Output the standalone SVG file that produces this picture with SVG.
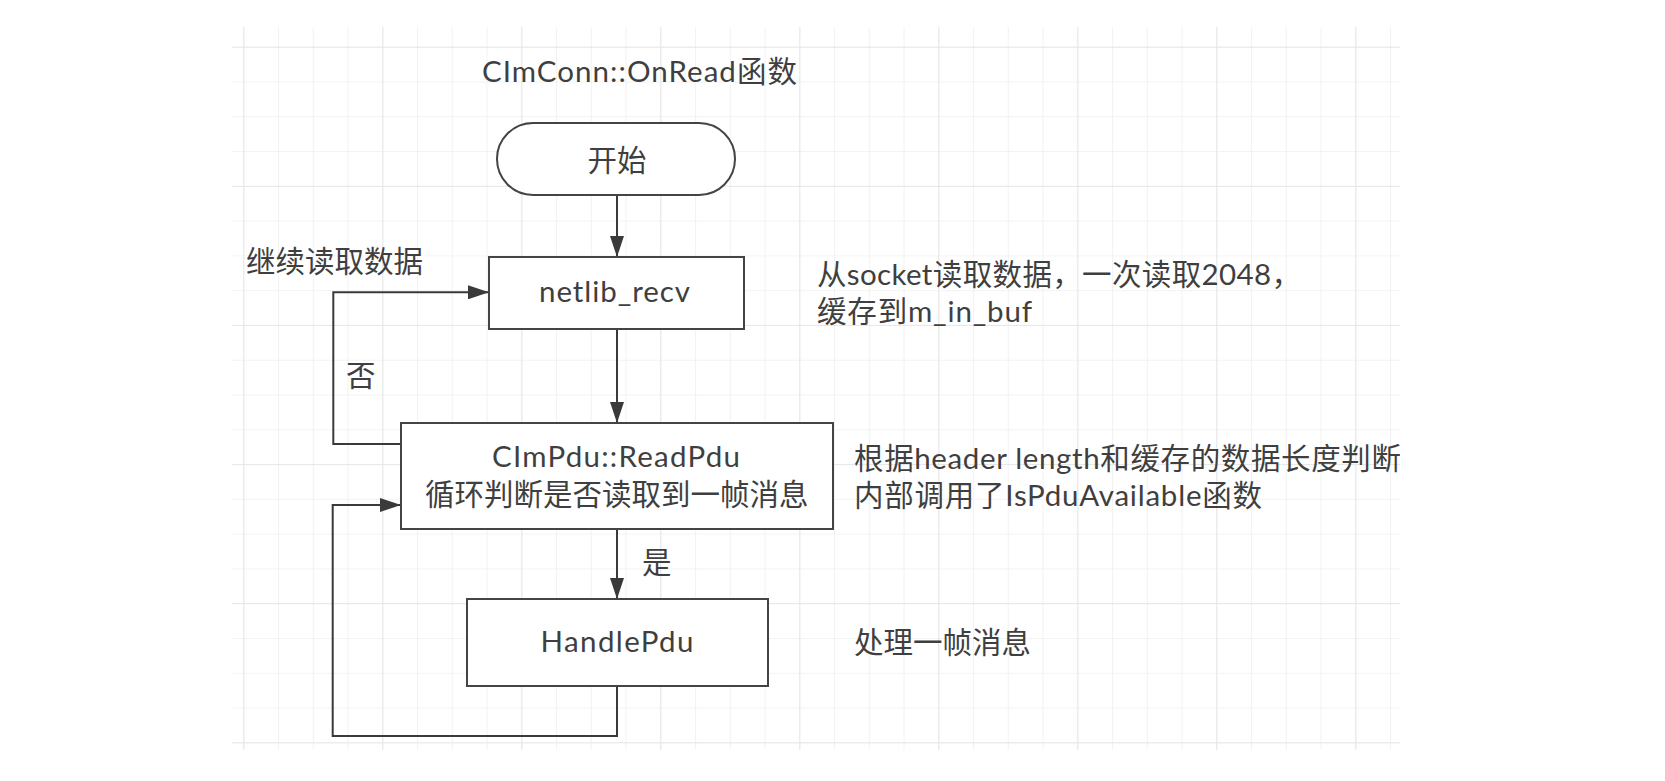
<svg xmlns="http://www.w3.org/2000/svg" width="1665" height="781" viewBox="0 0 1665 781">
  <defs>
    <pattern id="gridMinor" patternUnits="userSpaceOnUse" x="243.3" y="46.7" width="34.75" height="34.78">
      <path d="M0,0 V34.78 M0,0 H34.75" fill="none" stroke="#efefef" stroke-width="1.6"/>
    </pattern>
    <pattern id="gridMajor" patternUnits="userSpaceOnUse" x="243.3" y="46.7" width="139" height="139.12">
      <path d="M0,0 V139.12 M0,0 H139" fill="none" stroke="#e4e4e4" stroke-width="1.6"/>
    </pattern>
    <clipPath id="shot">
      <rect x="0" y="0" width="1400" height="781"/>
    </clipPath>
    <marker id="arrow" markerUnits="userSpaceOnUse" markerWidth="21" markerHeight="14" refX="21" refY="7" orient="auto">
      <path d="M0,0 L21,7 L0,14 Z" fill="#3a3a3a"/>
    </marker>
  </defs>
  <style>
    .txt { font-family: "Lato", "Noto Sans CJK SC", sans-serif; font-size: 29.5px; fill: #3f3f3f; }
    .box { fill: #ffffff; stroke: #444444; stroke-width: 2; }
    .edge { fill: none; stroke: #3a3a3a; stroke-width: 2; }
  </style>
  <rect x="0" y="0" width="1665" height="781" fill="#ffffff"/>
  <g id="grid">
    <rect x="232" y="27" width="1168" height="723" fill="url(#gridMinor)"/>
    <rect x="232" y="27" width="1168" height="723" fill="url(#gridMajor)"/>
  </g>
  <g clip-path="url(#shot)">
    <g id="connectors">
      <path class="edge" d="M617,195 V257" marker-end="url(#arrow)"/>
      <path class="edge" d="M617,329 V423" marker-end="url(#arrow)"/>
      <path class="edge" d="M401,444 H333.3 V292.3 H489" marker-end="url(#arrow)"/>
      <path class="edge" d="M617,529 V599" marker-end="url(#arrow)"/>
      <path class="edge" d="M617,686 V736 H332.7 V505 H401" marker-end="url(#arrow)"/>
      <text class="txt" x="346" y="386">否</text>
      <text class="txt" x="642" y="573">是</text>
      <text class="txt" x="246" y="272">继续读取数据</text>
    </g>
    <g id="title">
      <text class="txt" x="482" y="82" textLength="315" lengthAdjust="spacing">CImConn::OnRead函数</text>
    </g>
    <g id="node-start">
      <rect class="box" x="497" y="123" width="238" height="72" rx="36" ry="36"/>
      <text class="txt" x="617" y="171" text-anchor="middle">开始</text>
    </g>
    <g id="node-netlib-recv">
      <rect class="box" x="489" y="257" width="255" height="72"/>
      <text class="txt" x="539" y="302" textLength="151" lengthAdjust="spacing">netlib_recv</text>
    </g>
    <g id="node-readpdu">
      <rect class="box" x="401" y="423" width="432" height="106"/>
      <text class="txt" x="492" y="466.5" textLength="248" lengthAdjust="spacing">CImPdu::ReadPdu</text>
      <text class="txt" x="425" y="504.5">循环判断是否读取到一帧消息</text>
    </g>
    <g id="node-handlepdu">
      <rect class="box" x="467" y="599" width="301" height="87"/>
      <text class="txt" x="540.5" y="652" textLength="153" lengthAdjust="spacing">HandlePdu</text>
    </g>
    <g id="note-recv">
      <text class="txt" x="817" y="285" textLength="484" lengthAdjust="spacing">从socket读取数据，一次读取2048，</text>
      <text class="txt" x="817" y="321.5" textLength="215" lengthAdjust="spacing">缓存到m_in_buf</text>
    </g>
    <g id="note-readpdu">
      <text class="txt" x="854" y="469" textLength="547" lengthAdjust="spacing">根据header length和缓存的数据长度判断</text>
      <text class="txt" x="854" y="505.5" textLength="408" lengthAdjust="spacing">内部调用了IsPduAvailable函数</text>
    </g>
    <g id="note-handlepdu">
      <text class="txt" x="854" y="653">处理一帧消息</text>
    </g>
  </g>
</svg>
